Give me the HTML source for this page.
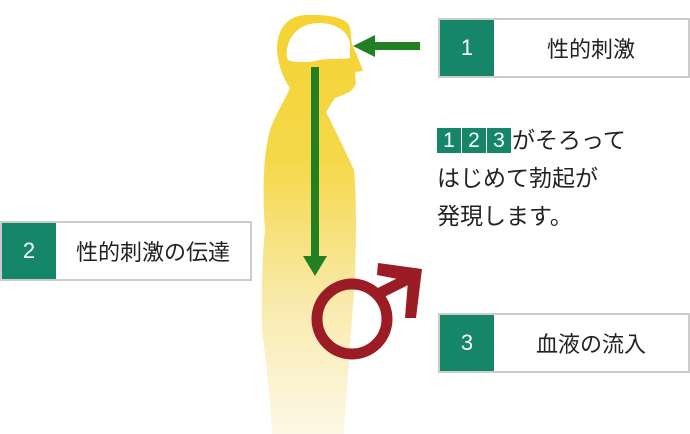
<!DOCTYPE html>
<html><head><meta charset="utf-8"><style>
body{margin:0;width:690px;height:434px;background:#fff;position:relative;overflow:hidden;font-family:"Liberation Sans","Noto Sans CJK JP",sans-serif;color:#222}
.box{position:absolute;border:2px solid #ccc;background:#fff;box-sizing:border-box;display:flex;align-items:center}
.num{background:#16866a;color:#fff;height:100%;width:54px;display:flex;align-items:center;justify-content:center;font-size:22px}
.lbl{flex:1;text-align:center;font-size:22px}
.sq{display:inline-block;width:24px;height:25px;background:#16866a;color:#fff;text-align:center;line-height:25px;font-size:21px;margin-right:1px;vertical-align:top;margin-top:7px}
.txt{position:absolute;left:437px;top:121px;font-size:23px;line-height:38px}
</style></head><body>
<svg width="690" height="434" style="position:absolute;left:0;top:0">
<defs><linearGradient id="g" x1="0" y1="0" x2="0" y2="1">
<stop offset="0" stop-color="#f5d332"/><stop offset="0.35" stop-color="#f5d84a"/><stop offset="0.7" stop-color="#f9ebb0"/><stop offset="1" stop-color="#fdf8e6"/></linearGradient></defs>
<path d="M305 15 C330 14 348 18 350 28 L352 44 L358 58 L363 71 L355 72 L356 84 L352 90 C347 94 340 96 335 98 L326 112 C335 130 345 150 354 170 C357 200 356 240 355 280 C352 320 348 370 344 434 L272 434 C270 400 266 360 262 330 C261 300 262 260 265 230 C263 200 262 160 270 130 C275 115 285 100 290 88 C283 78 278 65 277 50 C277 28 288 16 305 15 Z" fill="url(#g)"/>
<path d="M287 58 C285 40 296 24 318 23 C340 23 350 35 350 45 L350 58 C340 60 330 58 320 60 L310 62 L300 62 C292 62 288 61 287 58 Z" fill="#fff"/>
<rect x="311" y="67" width="8" height="190" fill="#227f22"/>
<polygon points="303,256 327,256 315,276" fill="#227f22"/>
<rect x="372" y="42" width="48" height="8" fill="#227f22"/>
<polygon points="353,46 375,35 375,57" fill="#227f22"/>
<circle cx="352" cy="319" r="35" fill="none" stroke="#9b1c24" stroke-width="11"/>
<line x1="376" y1="295" x2="412" y2="277" stroke="#9b1c24" stroke-width="11"/>
<polygon points="378,263 422,269 416,318 405,318 408,281 377,275" fill="#9b1c24"/>
</svg>
<div class="box" style="left:438px;top:18px;width:252px;height:60px"><div class="num">1</div><div class="lbl">性的刺激</div></div>
<div class="box" style="left:0;top:221px;width:252px;height:60px"><div class="num">2</div><div class="lbl">性的刺激の伝達</div></div>
<div class="box" style="left:438px;top:313px;width:252px;height:60px"><div class="num">3</div><div class="lbl">血液の流入</div></div>
<div class="txt"><span class="sq">1</span><span class="sq">2</span><span class="sq">3</span>がそろって<br>はじめて勃起が<br>発現します。</div>
</body></html>
